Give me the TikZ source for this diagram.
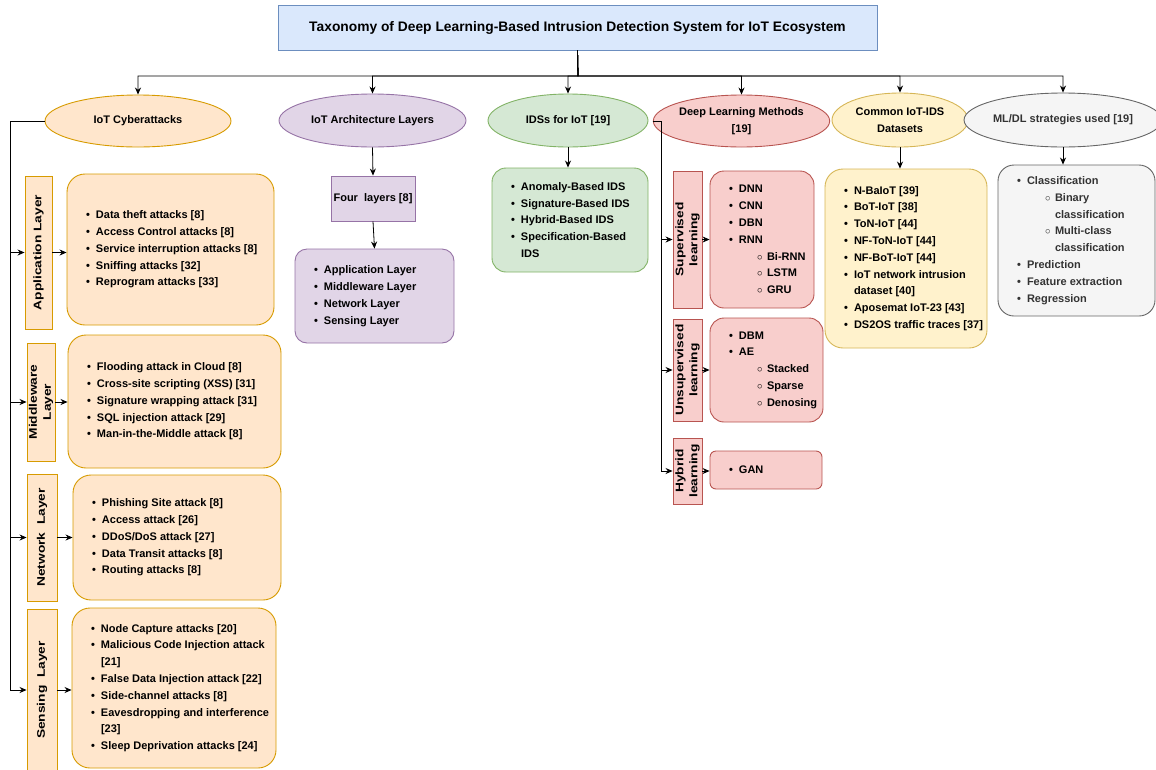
\documentclass[tikz,border=0pt]{standalone}
\usepackage{fontspec}
\setmainfont{Liberation Sans}
\usepackage{graphicx}
\usetikzlibrary{shapes.geometric,arrows.meta,calc}
\definecolor{oF}{HTML}{FFE6CC}\definecolor{oD}{HTML}{D79B00}
\definecolor{pF}{HTML}{E1D5E7}\definecolor{pD}{HTML}{9673A6}
\definecolor{gF}{HTML}{D5E8D4}\definecolor{gD}{HTML}{82B366}
\definecolor{rF}{HTML}{F8CECC}\definecolor{rD}{HTML}{B85450}
\definecolor{yF}{HTML}{FFF2CC}\definecolor{yD}{HTML}{D6B656}
\definecolor{sF}{HTML}{F5F5F5}\definecolor{sD}{HTML}{666666}
\definecolor{bF}{HTML}{DAE8FC}\definecolor{bD}{HTML}{6C8EBF}
\definecolor{tG}{HTML}{333333}
\newcommand{\lbul}[1]{\makebox[10pt][l]{\textbullet}#1}
\newcommand{\lcnt}[1]{\hspace*{10pt}#1}
\newcommand{\lsub}[1]{\hspace*{28pt}\makebox[10pt][l]{$\circ$}#1}
\newcommand{\lscnt}[1]{\hspace*{38pt}#1}
\newcommand{\vlab}[1]{\rotatebox{90}{\scalebox{1.25}[1]{\begin{tabular}{@{}c@{}}#1\end{tabular}}}}
\tikzset{
  base/.style={font=\bfseries\fontsize{11}{16.8}\selectfont, inner sep=0pt, align=left, line width=0.9pt},
  ell/.style={base, ellipse, align=center, draw},
  lst/.style={base, draw, rounded corners=14pt},
  txt/.style={base, anchor=west, xshift=19pt},
  lab/.style={base, draw, font=\bfseries\fontsize{11}{14}\selectfont},
  arr/.style={-{Stealth[length=7pt,width=6pt]}, line width=0.8pt, black}
}
\begin{document}
\begin{tikzpicture}[x=1pt,y=-1pt]
\useasboundingbox (0,0) rectangle (1156,769);
% title
\node[base, draw=bD, fill=bF, minimum width=599, minimum height=45, font=\bfseries\fontsize{13.8}{16}\selectfont] (title) at (577.5,27.5) {Taxonomy of Deep Learning-Based Intrusion Detection System for IoT Ecosystem};
% ellipses
\node[ell, draw=oD, fill=oF, minimum width=186, minimum height=52] (cyber) at (138,121) {IoT Cyberattacks};
\node[ell, draw=pD, fill=pF, minimum width=187, minimum height=53] (arch) at (372.5,120.5) {IoT Architecture Layers};
\node[ell, draw=gD, fill=gF, minimum width=160, minimum height=53] (ids) at (568,120.5) {IDSs for IoT [19]};
\node[ell, draw=rD, fill=rF, minimum width=147, minimum height=52] (dl) at (741.5,121) {Deep Learning Methods\\{}[19]};
\node[ell, draw=yD, fill=yF, minimum width=136, minimum height=54] (ds) at (900,120) {Common IoT-IDS\\Datasets};
\node[ell, draw=sD, fill=sF, minimum width=160, minimum height=54, text=tG] (ml) at (1063,120) {ML/DL strategies used [19]};
% top bus
\coordinate (tbus) at (578,76);
\foreach \t in {cyber,arch,ids,dl,ds,ml}{
  \draw[arr] (title.south) -- (tbus) -| (\t.north);
}
% cyberattack column
\node[lab, draw=oD, fill=oF, minimum width=27, minimum height=153] (appL) at (38.5,252.5) {\vlab{Application Layer}};
\node[lst, draw=oD, fill=oF, minimum width=207, minimum height=151, rounded corners=18pt] (appC) at (170.5,249.5) {};
\node[txt] (appT) at (appC.west) {\lbul{Data theft attacks [8]}\\ \lbul{Access Control attacks [8]}\\ \lbul{Service interruption attacks [8]}\\ \lbul{Sniffing attacks [32]}\\ \lbul{Reprogram attacks [33]}};
\node[lab, draw=oD, fill=oF, minimum width=28, minimum height=118] (midL) at (41,402) {\vlab{Middleware\\Layer}};
\node[lst, draw=oD, fill=oF, minimum width=213, minimum height=133, rounded corners=18pt] (midC) at (174.5,401.5) {};
\node[txt] (midT) at (midC.west) {\lbul{Flooding attack in Cloud [8]}\\ \lbul{Cross-site scripting (XSS) [31]}\\ \lbul{Signature wrapping attack [31]}\\ \lbul{SQL injection attack [29]}\\ \lbul{Man-in-the-Middle attack [8]}};
\node[lab, draw=oD, fill=oF, minimum width=30, minimum height=127] (netL) at (42,537.5) {\vlab{Network\ \ Layer}};
\node[lst, draw=oD, fill=oF, minimum width=208, minimum height=125, rounded corners=18pt] (netC) at (177,537.5) {};
\node[txt] (netT) at (netC.west) {\lbul{Phishing Site attack [8]}\\ \lbul{Access attack [26]}\\ \lbul{DDoS/DoS attack [27]}\\ \lbul{Data Transit attacks [8]}\\ \lbul{Routing attacks [8]}};
\node[lab, draw=oD, fill=oF, minimum width=30, minimum height=162] (senL) at (42,690) {\vlab{Sensing\ \ Layer}};
\node[lst, draw=oD, fill=oF, minimum width=204, minimum height=160, rounded corners=18pt] (senC) at (174,688) {};
\node[txt] (senT) at (senC.west) {\lbul{Node Capture attacks [20]}\\ \lbul{Malicious Code Injection attack}\\ \lcnt{[21]}\\ \lbul{False Data Injection attack [22]}\\ \lbul{Side-channel attacks [8]}\\ \lbul{Eavesdropping and interference}\\ \lcnt{[23]}\\ \lbul{Sleep Deprivation attacks [24]}};
\coordinate (lbus) at (10,121);
\foreach \t in {appL,midL,netL,senL}{
  \draw[arr] (cyber.west) -- (lbus) |- (\t.west);
}
\draw[arr] (appL.east) -- (appL.east -| appC.west);
\draw[arr] (midL.east) -- (midL.east -| midC.west);
\draw[arr] (netL.east) -- (netL.east -| netC.west);
\draw[arr] (senL.east) -- (senL.east -| senC.west);
% architecture column
\node[base, draw=pD, fill=pF, minimum width=84, minimum height=45] (four) at (373,198.5) {Four\ \ layers [8]};
\node[lst, draw=pD, fill=pF, minimum width=159, minimum height=94, rounded corners=12pt] (layers) at (374.5,296) {};
\node[txt] (layersT) at (layers.west) {\lbul{Application Layer}\\ \lbul{Middleware Layer}\\ \lbul{Network Layer}\\ \lbul{Sensing Layer}};
\draw[arr] (arch.south) -- (four.north);
\draw[arr] (four.south) -- (layers.north);
% IDS column
\node[lst, draw=gD, fill=gF, minimum width=156, minimum height=104, rounded corners=14pt] (idsC) at (570,220) {};
\node[txt] (idsT) at (idsC.west) {\lbul{Anomaly-Based IDS}\\ \lbul{Signature-Based IDS}\\ \lbul{Hybrid-Based IDS}\\ \lbul{Specification-Based}\\ \lcnt{IDS}};
\draw[arr] (ids.south) -- (ids.south |- idsC.north);
% deep learning column
\node[lab, draw=rD, fill=rF, minimum width=29, minimum height=137] (supL) at (687.5,239.5) {\vlab{Supervised\\learning}};
\node[lst, draw=rD, fill=rF, minimum width=104, minimum height=137] (supC) at (762,239.5) {};
\node[txt] (supT) at (supC.west) {\lbul{DNN}\\ \lbul{CNN}\\ \lbul{DBN}\\ \lbul{RNN}\\ \lsub{Bi-RNN}\\ \lsub{LSTM}\\ \lsub{GRU}};
\node[lab, draw=rD, fill=rF, minimum width=29, minimum height=102] (unsL) at (687.5,370) {\vlab{Unsupervised\\learning}};
\node[lst, draw=rD, fill=rF, minimum width=113, minimum height=104] (unsC) at (766.5,370) {};
\node[txt] (unsT) at (unsC.west) {\lbul{DBM}\\ \lbul{AE}\\ \lsub{Stacked}\\ \lsub{Sparse}\\ \lsub{Denosing}};
\node[lab, draw=rD, fill=rF, minimum width=29, minimum height=66] (hybL) at (687.5,471) {\vlab{Hybrid\\learning}};
\node[lst, draw=rD, fill=rF, minimum width=112, minimum height=38, rounded corners=6pt] (hybC) at (766,470) {};
\node[txt] (hybT) at (hybC.west) {\lbul{GAN}};
\coordinate (dbus) at (661,121);
\foreach \t in {supL,unsL,hybL}{
  \draw[arr] (dl.west) -- (dbus) |- (\t.west);
}
\draw[arr] (supL.east) -- (supL.east -| supC.west);
\draw[arr] (unsL.east) -- (unsL.east -| unsC.west);
\draw[arr] (hybL.east) -- (hybL.east -| hybC.west);
% datasets column
\node[lst, draw=yD, fill=yF, minimum width=162, minimum height=179, rounded corners=18pt] (dsC) at (906,258.5) {};
\node[txt] (dsT) at (dsC.west) {\lbul{N-BaIoT [39]}\\ \lbul{BoT-IoT [38]}\\ \lbul{ToN-IoT [44]}\\ \lbul{NF-ToN-IoT [44]}\\ \lbul{NF-BoT-IoT [44]}\\ \lbul{IoT network intrusion}\\ \lcnt{dataset [40]}\\ \lbul{Aposemat IoT-23 [43]}\\ \lbul{DS2OS traffic traces [37]}};
\draw[arr] (ds.south) -- (ds.south |- dsC.north);
% ML/DL column
\node[lst, draw=sD, fill=sF, minimum width=157, minimum height=151, rounded corners=16pt] (mlC) at (1076.5,240.5) {};
\node[txt, text=tG] (mlT) at (mlC.west) {\lbul{Classification}\\ \lsub{Binary}\\ \lscnt{classification}\\ \lsub{Multi-class}\\ \lscnt{classification}\\ \lbul{Prediction}\\ \lbul{Feature extraction}\\ \lbul{Regression}};
\draw[arr] (ml.south) -- (ml.south |- mlC.north);
\end{tikzpicture}
\end{document}
